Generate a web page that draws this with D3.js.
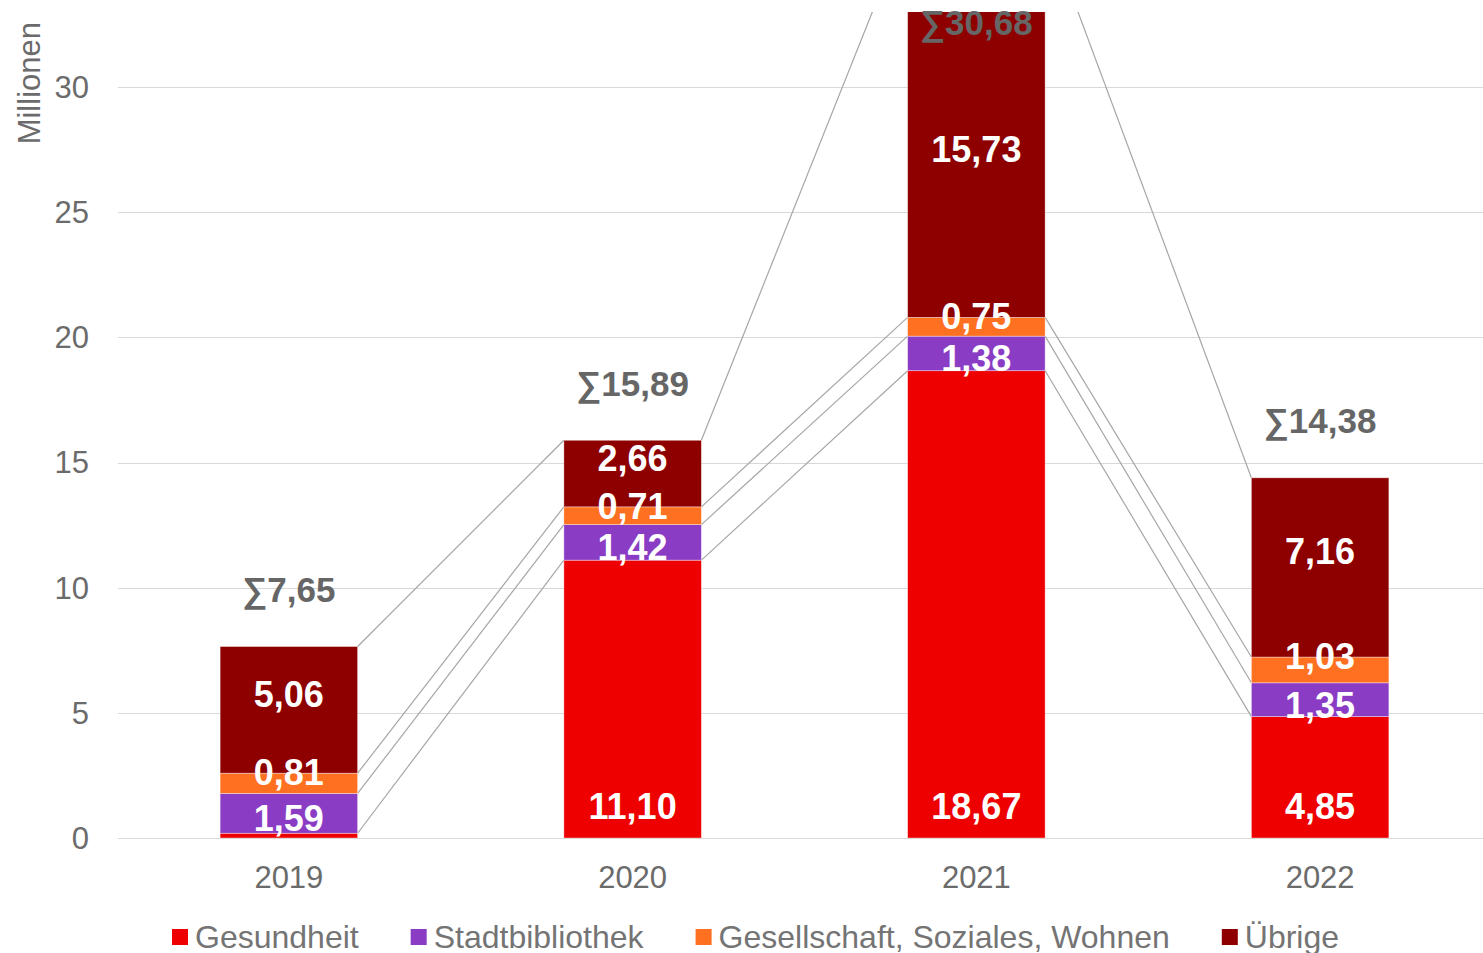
<!DOCTYPE html>
<meta charset="utf-8">
<style>
body { margin: 0; background: #fff; }
svg { font-family: "Liberation Sans", Arial, sans-serif; }
.grid line { stroke: #d9d9d9; stroke-width: 1.5px; shape-rendering: crispEdges; }
.tick-label { fill: #6b6b6b; font-size: 31px; }
.connector { stroke: #a6a6a6; stroke-width: 1.2px; fill: none; }
.seg-label { fill: #fff; font-size: 36px; font-weight: bold; text-anchor: middle; }
.sum-label { fill: #666; font-size: 35px; font-weight: bold; text-anchor: middle; }
.legend text { fill: #747474; font-size: 32px; }
</style>
<body>
<script src="https://d3js.org/d3.v7.min.js"></script>
<script>

var years = ["2019", "2020", "2021", "2022"];
var seriesNames = ["Gesundheit", "Stadtbibliothek", "Gesellschaft, Soziales, Wohnen", "Übrige"];
var gesundheit = [0.19, 11.10, 18.67, 4.85];
var stadtbibliothek = [1.59, 1.42, 1.38, 1.35];
var gesellschaft = [0.81, 0.71, 0.75, 1.03];
var uebrige = [5.06, 2.66, 15.73, 7.16];
var totals = [7.65, 15.89, 30.68, 14.38];
var yTicks = [0, 5, 10, 15, 20, 25, 30];
var colors = ["#ee0000", "#8a3cc4", "#ff7020", "#8e0000"];

var width = 1483, height = 953;
var plot = {left: 117, right: 1492, top: 12, bottom: 838};

var table = years.map(function(y, i) {
  return {year: y, s0: gesundheit[i], s1: stadtbibliothek[i], s2: gesellschaft[i], s3: uebrige[i]};
});
var keys = ["s0", "s1", "s2", "s3"];
var stacked = d3.stack().keys(keys)(table);

var x = d3.scaleBand()
    .domain(years)
    .range([plot.left, plot.right])
    .paddingInner(0.6)
    .paddingOuter(0.3);

var y = d3.scaleLinear()
    .domain([0, 33])
    .range([plot.bottom, plot.top]);

var fmt = function(v) { return d3.format(".2f")(v).replace(".", ","); };

var svg = d3.select("body").append("svg")
    .attr("width", width)
    .attr("height", height);

svg.append("defs").append("clipPath")
    .attr("id", "plotclip")
  .append("rect")
    .attr("x", plot.left)
    .attr("y", plot.top)
    .attr("width", plot.right - plot.left)
    .attr("height", plot.bottom - plot.top);

// gridlines
svg.append("g")
    .attr("class", "grid")
  .selectAll("line")
  .data(yTicks)
  .enter().append("line")
    .attr("x1", plot.left + 1)
    .attr("x2", width)
    .attr("y1", function(d) { return Math.round(y(d)) + 0.5; })
    .attr("y2", function(d) { return Math.round(y(d)) + 0.5; });

// y tick labels
svg.append("g").selectAll("text")
  .data(yTicks)
  .enter().append("text")
    .attr("class", "tick-label")
    .attr("x", 89)
    .attr("y", function(d) { return y(d); })
    .attr("dy", "0.35em")
    .attr("text-anchor", "end")
    .text(function(d) { return d; });

// y title
svg.append("text")
    .attr("class", "tick-label")
    .attr("transform", "translate(40,22) rotate(-90)")
    .attr("text-anchor", "end")
    .text("Millionen");

// x labels
svg.append("g").selectAll("text")
  .data(years)
  .enter().append("text")
    .attr("class", "tick-label")
    .attr("x", function(d) { return x(d) + x.bandwidth() / 2; })
    .attr("y", 877)
    .attr("dy", "0.35em")
    .attr("text-anchor", "middle")
    .text(function(d) { return d; });

var plotG = svg.append("g").attr("clip-path", "url(#plotclip)");

// series connector lines
stacked.forEach(function(layer) {
  for (var j = 0; j < years.length - 1; j++) {
    plotG.append("line")
        .attr("class", "connector")
        .attr("x1", x(years[j]) + x.bandwidth())
        .attr("y1", y(layer[j][1]))
        .attr("x2", x(years[j + 1]))
        .attr("y2", y(layer[j + 1][1]));
  }
});

// bars
plotG.selectAll(".layer")
  .data(stacked)
  .enter().append("g")
    .attr("class", "layer")
    .attr("fill", function(d, i) { return colors[i]; })
  .selectAll("rect")
  .data(function(d) { return d; })
  .enter().append("rect")
    .attr("x", function(d) { return x(d.data.year); })
    .attr("y", function(d) { return y(d[1]); })
    .attr("width", x.bandwidth())
    .attr("height", function(d) { return y(d[0]) - y(d[1]); })
    .attr("stroke", "#fff")
    .attr("stroke-opacity", 0.5)
    .attr("stroke-width", 0.75);

// segment labels
stacked.forEach(function(layer, i) {
  layer.forEach(function(d, j) {
    var v = d[1] - d[0];
    if (v < 0.5) return;
    var y0 = y(d[0]), y1 = Math.max(y(d[1]), plot.top), ly;
    if (i === 0) ly = y0 - 32;
    else if (i === 1) ly = (y0 + y1) / 2 + 5;
    else if (i === 2) ly = y1 - 1;
    else ly = (y0 + y1) / 2 - 16;
    svg.append("text")
        .attr("class", "seg-label")
        .attr("x", x(years[j]) + x.bandwidth() / 2)
        .attr("y", ly)
        .attr("dy", "0.36em")
        .text(fmt(v));
  });
});

// sum labels
var topLayer = stacked[stacked.length - 1];
svg.append("g").selectAll("text")
  .data(years)
  .enter().append("text")
    .attr("class", "sum-label")
    .attr("x", function(d) { return x(d) + x.bandwidth() / 2; })
    .attr("y", function(d, j) { return Math.max(y(topLayer[j][1]) - 57, 22); })
    .attr("dy", "0.36em")
    .text(function(d, j) { return "∑" + fmt(totals[j]); });

// legend
var legend = svg.append("g").attr("class", "legend");
var items = legend.selectAll("g")
  .data(seriesNames)
  .enter().append("g");
items.append("rect")
    .attr("width", 16)
    .attr("height", 16)
    .attr("y", -8)
    .attr("fill", function(d, i) { return colors[i]; });
items.append("text")
    .attr("x", 23)
    .attr("dy", "0.35em")
    .text(function(d) { return d; });

var offsets = [], pos = 172;
items.each(function() {
  offsets.push(pos);
  pos += 23 + d3.select(this).select("text").node().getComputedTextLength() + 52;
});
items.attr("transform", function(d, i) { return "translate(" + offsets[i] + ",937)"; });

</script>
